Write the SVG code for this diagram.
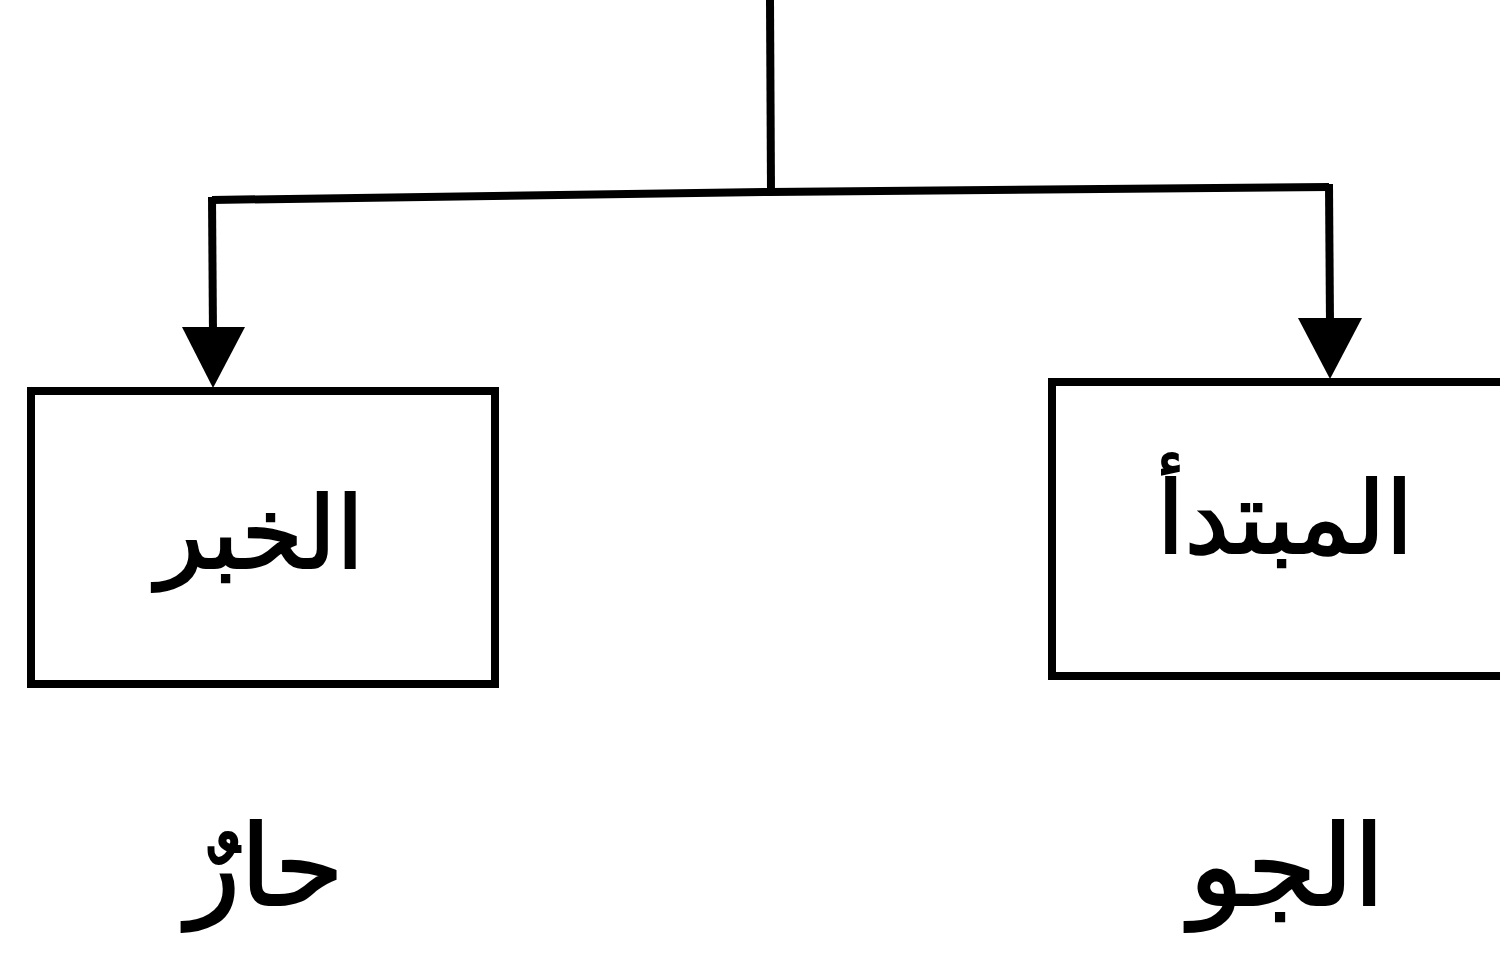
<svg xmlns="http://www.w3.org/2000/svg" width="1500" height="966" viewBox="0 0 1500 966">
<style>
.ln{fill:none;stroke:#000;stroke-width:8;stroke-linejoin:miter}
.box{fill:none;stroke:#000;stroke-width:8}
.ah{fill:#000}
.t{font-family:"DejaVu Sans",sans-serif;fill:#000;stroke:#000;stroke-width:2;text-anchor:middle}
.big{font-size:100px}
.sm{font-size:112px}
</style>
<rect width="1500" height="966" fill="#fff"/>
<g id="connectors">
<path class="ln" d="M770,0 L771,192"/>
<path class="ln" d="M212,200 L770,192 L1329,187"/>
<path class="ln" d="M212,197 L213,335"/>
<path class="ln" d="M1329,184 L1330,325"/>
<path class="ah" d="M182,327 L245,327 L213,388 Z"/>
<path class="ah" d="M1298,318 L1362,318 L1330,379 Z"/>
</g>
<g id="node-khabar">
<rect class="box" x="31" y="391" width="464" height="293"/>
<text class="t big" x="260" y="568" direction="rtl">الخبر</text>
</g>
<g id="node-mubtada">
<rect class="box" x="1052" y="382" width="460" height="294"/>
<text class="t big" x="1285" y="553" direction="rtl">المبتدأ</text>
</g>
<g id="word-harr">
<text class="t sm" x="265" y="905" direction="rtl">حارٌ</text>
</g>
<g id="word-jaw">
<text class="t sm" x="1287" y="905" direction="rtl">الجو</text>
</g>
</svg>
